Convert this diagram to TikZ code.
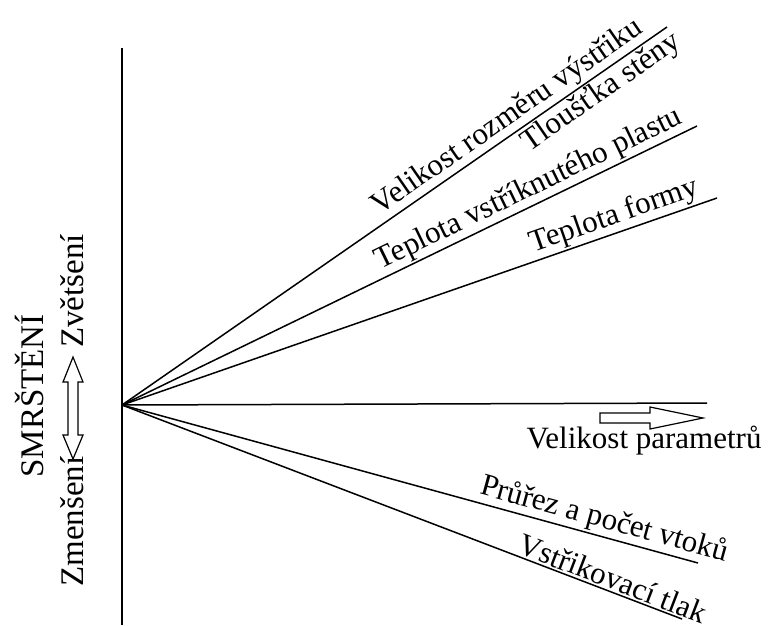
\documentclass[tikz,border=0pt]{standalone}
\usepackage{fontspec}
\setmainfont{Liberation Serif}
\begin{document}
\begin{tikzpicture}[x=1pt,y=-1pt,
  fan/.style={line width=1.5pt},
  lbl/.style={font=\fontsize{31}{31}\selectfont, inner sep=1.5pt},
  side/.style={font=\fontsize{33}{33}\selectfont, inner sep=0pt, rotate=90},
  hollow/.style={draw, line width=1.2pt, fill=white, line join=miter}]
\useasboundingbox (0,0) rectangle (768,625);
\coordinate (O) at (122,405);
\coordinate (top) at (122,48);
\coordinate (bot) at (122,625);
\coordinate (E1) at (667,27);
\coordinate (E2) at (697,126);
\coordinate (E3) at (717,198);
\coordinate (E4) at (707,403);
\coordinate (E5) at (698,563);
\coordinate (E6) at (682,619);
\draw[fan] (top) -- (bot);
\draw[fan] (O) -- (E1)
  node[lbl, pos=0.725, sloped, above] (t1) {Velikost rozměru výstřiku}
  node[lbl, pos=0.862, sloped, below] (t2) {Tloušťka stěny};
\draw[fan] (O) -- (E2)
  node[lbl, pos=0.72, sloped, above] (t3) {Teplota vstříknutého plastu};
\draw[fan] (O) -- (E3)
  node[lbl, pos=0.837, sloped, above] (t4) {Teplota formy};
\draw[fan] (O) -- (E4);
\draw[fan] (O) -- (E5)
  node[lbl, pos=0.83, sloped, above] (t5) {Průřez a počet vtoků};
\draw[fan] (O) -- (E6)
  node[lbl, pos=0.868, sloped, above] (t6) {Vstřikovací tlak};
\node[lbl, anchor=base, inner sep=0pt] (vp) at (644,448) {Velikost parametrů};
\draw[hollow] (600,413) -- (650,413) -- (650,407) -- (703,418) -- (650,429) -- (650,423) -- (600,423) -- cycle;
\node[side, anchor=base] (sm) at (43,396) {SMRŠTĚNÍ};
\node[side, anchor=base west] (zv) at (83,348) {Zvětšení};
\node[side, anchor=base west] (zm) at (83,587) {Zmenšení};
\draw[hollow] (73,357) -- (83,382) -- (78,382) -- (78,435) -- (83,435) -- (73,459) -- (63,435) -- (68,435) -- (68,382) -- (63,382) -- cycle;
\end{tikzpicture}
\end{document}
